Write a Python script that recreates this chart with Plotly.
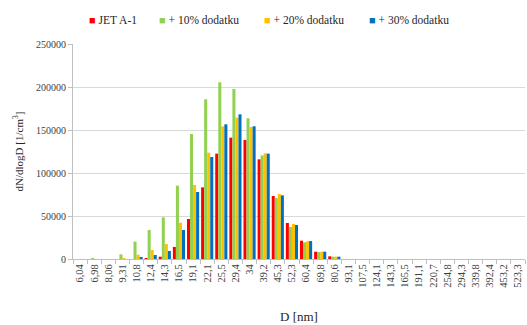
import plotly.graph_objects as go

categories = ["6,04", "6,98", "8,06", "9,31", "10,8", "12,4", "14,3", "16,5", "19,1", "22,1",
              "25,5", "29,4", "34", "39,2", "45,3", "52,3", "60,4", "69,8", "80,6", "93,1",
              "107,5", "124,1", "143,3", "165,5", "191,1", "220,7", "254,8", "294,3", "339,8",
              "392,4", "453,2", "523,3"]

jet_a1 = [0, 0, 0, 0, 0, 800, 2700, 14000, 46500, 83300, 122500, 141100, 138400, 115900,
          73300, 41900, 21300, 8500, 3100, 0, 0, 0, 0, 0, 0, 0, 0, 0, 0, 0, 0, 0]
plus10 = [0, 1000, 0, 5400, 20200, 33700, 48400, 85300, 145300, 185700, 205400, 197700,
          163600, 120500, 70900, 37200, 19400, 8100, 2700, 0, 0, 0, 0, 0, 0, 0, 0, 0, 0, 0, 0, 0]
plus20 = [0, 0, 0, 1000, 5000, 10500, 17400, 42200, 86000, 123600, 154300, 164300, 153500,
          122900, 75600, 40700, 20500, 8500, 2700, 0, 0, 0, 0, 0, 0, 0, 0, 0, 0, 0, 0, 0]
plus30 = [0, 0, 0, 0, 2000, 4650, 9300, 33700, 77900, 118600, 156600, 168200, 154300,
          122500, 74000, 39500, 20900, 8500, 2700, 0, 0, 0, 0, 0, 0, 0, 0, 0, 0, 0, 0, 0]

series_names = ["JET A-1", "+ 10% dodatku", "+ 20% dodatku", "+ 30% dodatku"]
series_values = [jet_a1, plus10, plus20, plus30]
series_colors = ["#ff0000", "#92d050", "#ffc000", "#0070c0"]
legend_x = [0.031, 0.185, 0.419, 0.651]

font = "Liberation Serif, Times New Roman, serif"

fig = go.Figure()
for name, vals, color in zip(series_names, series_values, series_colors):
    fig.add_trace(go.Bar(x=categories, y=vals, name=name, marker_color=color,
                         marker_line_width=0, showlegend=False))

for name, color, lx in zip(series_names, series_colors, legend_x):
    fig.add_annotation(
        x=lx, y=1.112, xref="paper", yref="paper", xanchor="left", yanchor="middle",
        showarrow=False,
        text=f"<span style='color:{color};font-size:11px'>■</span> {name}",
        font=dict(family=font, size=11.5, color="#262626"),
    )

fig.update_layout(
    width=527, height=325,
    margin=dict(l=73, r=2, t=44, b=66),
    paper_bgcolor="white", plot_bgcolor="white",
    barmode="group", bargap=0.14, bargroupgap=0,
    font=dict(family=font, size=10, color="#404040"),
    showlegend=False,
    xaxis=dict(type="category", tickangle=-90, ticks="outside", tickson="boundaries",
               ticklen=4, tickcolor="#bfbfbf", showline=True, linecolor="#bfbfbf",
               automargin=False,
               tickfont=dict(family=font, size=10.5, color="#404040"),
               title=dict(text="D [nm]", font=dict(family=font, size=13, color="#262626"),
                          standoff=25)),
    yaxis=dict(range=[0, 250000], dtick=50000, tickformat="d", showgrid=True,
               gridcolor="#d9d9d9", ticks="outside", ticklen=4, tickcolor="#bfbfbf",
               showline=True, linecolor="#bfbfbf", zeroline=False, automargin=False,
               tickfont=dict(family=font, size=10, color="#404040"),
               title=dict(text="dN/dlogD [1/cm<sup>3</sup>]",
                          font=dict(family=font, size=11, color="#262626"), standoff=10)),
)

fig.write_html("out.html", config={"displayModeBar": False},
               post_script="document.body.style.margin='0';")
